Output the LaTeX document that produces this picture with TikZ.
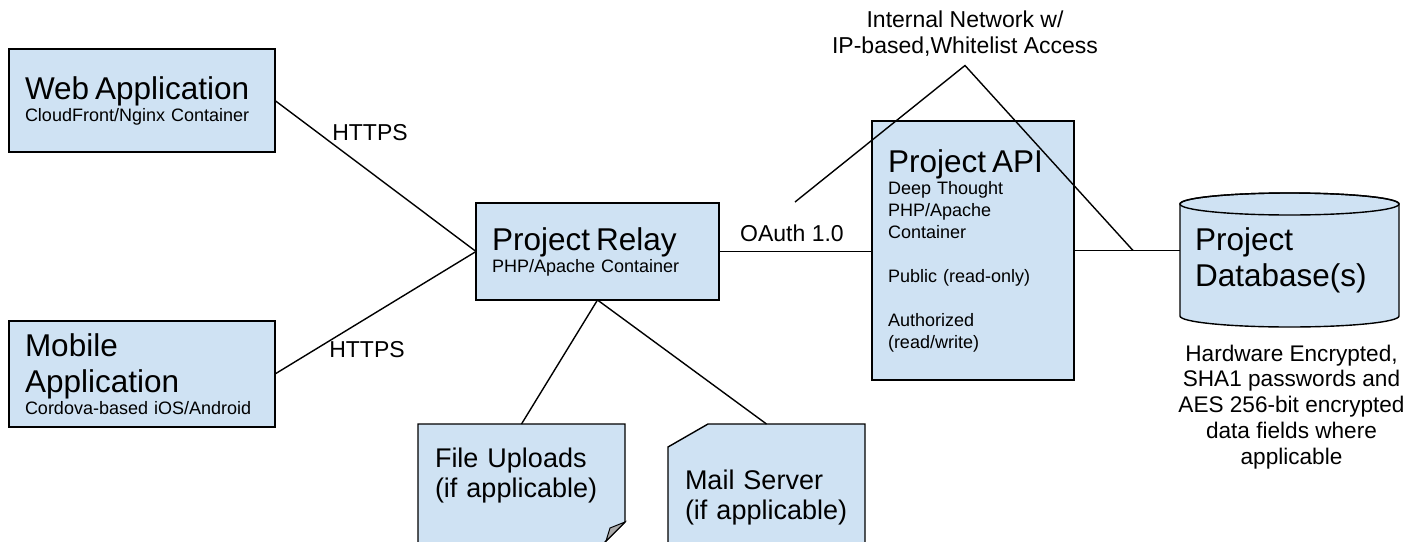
\documentclass[tikz,border=0pt]{standalone}
\usepackage{fontspec}
\setmainfont{Liberation Sans}
\usetikzlibrary{positioning,backgrounds}
\definecolor{boxblue}{RGB}{207,226,243}
\definecolor{foldgray}{RGB}{170,170,170}
\newcommand{\bigtxt}{\fontsize{31.5}{36}\selectfont}
\newcommand{\midtxt}{\fontsize{27}{30}\selectfont}
\newcommand{\lbltxt}{\fontsize{23}{26}\selectfont}
\newcommand{\smalltxt}{\fontsize{18}{22}\selectfont}

\begin{document}
\begin{tikzpicture}[
  x=1pt, y=-1pt,
  line width=1.4pt,
  appbox/.style={draw, fill=boxblue, align=left, inner xsep=16pt, inner ysep=0pt, outer sep=0pt, font=\smalltxt},
  notetext/.style={align=left, anchor=north west, inner xsep=17pt, outer sep=0pt, font=\midtxt},
  notefill/.style={draw, fill=boxblue, line width=1.4pt},
  foldfill/.style={draw, fill=foldgray, line width=1pt},
  tag/.style={font=\lbltxt, align=center, inner sep=0pt}
]
\useasboundingbox (0,0) rectangle (1406,541);
\clip (0,0) rectangle (1406,541);

\node[appbox, minimum width=266pt, minimum height=103pt, text width=234pt] (web) at (142,100.5)
  {{\bigtxt Web Application\par}CloudFront/Nginx Container};
\node[appbox, minimum width=266pt, minimum height=106pt, text width=234pt] (mobile) at (142,374)
  {{\bigtxt Mobile\\Application\par}Cordova-based iOS/Android};
\node[appbox, minimum width=243pt, minimum height=97pt, text width=211pt] (relay) at (597.5,251.5)
  {{\bigtxt Project Relay\par}PHP/Apache Container};
\node[appbox, minimum width=202pt, minimum height=259pt, text width=170pt] (api) at (973,250.5)
  {{\bigtxt Project API\par}Deep Thought\\PHP/Apache\\Container\\[22pt]Public (read-only)\\[22pt]Authorized\\(read/write)};
\node[align=left, inner xsep=15pt, outer sep=0pt, minimum width=219pt, minimum height=134pt, text width=189pt, font=\bigtxt] (db) at (1289.5,260)
  {Project\\Database(s)};
\node[notetext, text width=173pt, minimum width=207pt, inner ysep=24pt] (uploads) at (418,424)
  {File Uploads\\(if applicable)};
\node[notetext, text width=163pt, minimum width=197pt, inner ysep=46pt] (mail) at (668,424)
  {Mail Server\\(if applicable)};

\node[tag] (https1) at (370,133) {HTTPS};
\node[tag] (https2) at (367,350) {HTTPS};
\node[tag] (oauth) at (792,233) {OAuth 1.0};
\node[tag] (net) at (965,34) {Internal Network w/\\IP-based,Whitelist Access};
\node[tag, below=17pt of db, xshift=2pt, font=\fontsize{22.6}{25.8}\selectfont] (dbnote)
  {Hardware Encrypted,\\SHA1 passwords and\\AES 256-bit encrypted\\data fields where\\applicable};

\begin{scope}[on background layer]
  \draw[notefill] (uploads.north west) -- (uploads.north east) -- ++(0,98) -- ++(-22,22) -- ++(-185,0) -- cycle;
  \draw[foldfill] ([yshift=-98pt]uploads.north east) -- ++(-15,6) -- ++(-4,13) -- cycle;
  \draw[notefill] ([yshift=-23pt]mail.north west) -- ([xshift=40pt]mail.north west) -- (mail.north east) -- ++(0,125) -- ++(-197,0) -- cycle;
  \draw[notefill] ([yshift=-11pt]db.north west) -- ([yshift=11pt]db.south west)
    arc[start angle=180, end angle=360, x radius=109.5pt, y radius=11pt]
    -- ([yshift=-11pt]db.north east)
    arc[start angle=0, end angle=180, x radius=109.5pt, y radius=11pt] -- cycle;
  \draw[line width=1.4pt] ([yshift=-11pt]db.north) ellipse[x radius=109.5pt, y radius=11pt];
\end{scope}

\draw (web.east) -- (relay.west);
\draw (mobile.east) -- (relay.west);
\draw (relay.east) -- (relay.east -| api.west);
\draw (api.east) -- (api.east -| db.west);
\draw (relay.south) -- (uploads.north);
\draw (relay.south) -- (mail.north);

\coordinate (netleft) at (795,202);
\coordinate (netright) at (1133,250.5);
\draw (netleft) -- ([yshift=-8pt]net.south) -- (netright);
\end{tikzpicture}
\end{document}
